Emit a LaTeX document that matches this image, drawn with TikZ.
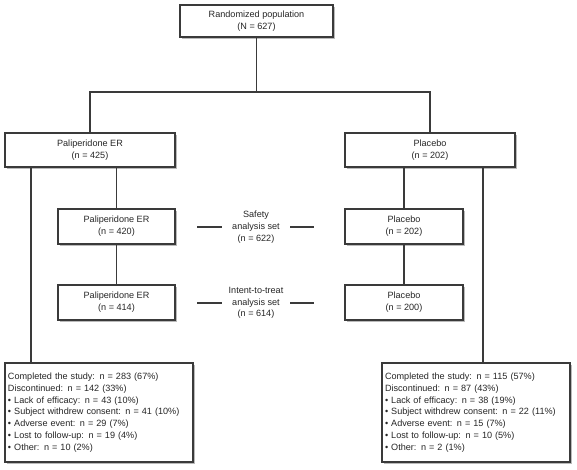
\documentclass[tikz,border=0pt]{standalone}
\usepackage{fontspec}
\setmainfont{Liberation Sans}
\usetikzlibrary{shadows}
\definecolor{ln}{HTML}{3A3A3A}
\begin{document}
\begin{tikzpicture}[x=1pt,y=-1pt,
  every node/.style={font=\fontsize{9.1}{11.8}\selectfont, text=black!85},
  box/.style={draw=ln, line width=1.2pt, fill=white, align=center, inner sep=2pt,
    drop shadow={shadow xshift=1.5pt, shadow yshift=-1.5pt, fill=black!45, opacity=0.6}},
  listbox/.style={box, align=left, text width=182pt, inner sep=2.5pt},
  conn/.style={draw=ln, line width=1.2pt},
  lbl/.style={align=center, inner sep=1pt}]
\useasboundingbox (0,0) rectangle (577,469);
\node[box, minimum width=153pt, minimum height=32pt] (top) at (256.5,21) {Randomized population\\(N = 627)};
\node[box, minimum width=170pt, minimum height=34pt] (pal) at (90,150) {Paliperidone ER\\(n = 425)};
\node[box, minimum width=170pt, minimum height=34pt] (pla) at (430,150) {Placebo\\(n = 202)};
\node[box, minimum width=117pt, minimum height=35pt] (palS) at (116.5,226.5) {Paliperidone ER\\(n = 420)};
\node[box, minimum width=118pt, minimum height=35pt] (plaS) at (404,226.5) {Placebo\\(n = 202)};
\node[box, minimum width=117pt, minimum height=35pt] (palT) at (116.5,302.5) {Paliperidone ER\\(n = 414)};
\node[box, minimum width=118pt, minimum height=35pt] (plaT) at (404,302.5) {Placebo\\(n = 200)};
\node[listbox, minimum width=188pt, minimum height=99pt] (palE) at (99,412.5) {Completed the study: n = 283 (67\%)\\Discontinued: n = 142 (33\%)\\• Lack of efficacy: n = 43 (10\%)\\• Subject withdrew consent: n = 41 (10\%)\\• Adverse event: n = 29 (7\%)\\• Lost to follow-up: n = 19 (4\%)\\• Other: n = 10 (2\%)};
\node[listbox, minimum width=188pt, minimum height=99pt] (plaE) at (476,412.5) {Completed the study: n = 115 (57\%)\\Discontinued: n = 87 (43\%)\\• Lack of efficacy: n = 38 (19\%)\\• Subject withdrew consent: n = 22 (11\%)\\• Adverse event: n = 15 (7\%)\\• Lost to follow-up: n = 10 (5\%)\\• Other: n = 2 (1\%)};
\node[lbl] (safe) at (256,227) {Safety\\analysis set\\(n = 622)};
\node[lbl] (itt) at (256,303) {Intent-to-treat\\analysis set\\(n = 614)};
\coordinate (split) at (256.5,92);
\coordinate (lx) at (31,0);
\coordinate (rx) at (483,0);
\draw[conn] (top.south) -- (split);
\draw[conn] (pal.north) |- (split) -| (pla.north);
\draw[conn] (pal.south -| palS.north) -- (palS.north);
\draw[conn] (palS.south) -- (palT.north);
\draw[conn] (pla.south -| plaS.north) -- (plaS.north);
\draw[conn] (plaS.south) -- (plaT.north);
\draw[conn] (pal.south -| lx) -- (palE.north -| lx);
\draw[conn] (pla.south -| rx) -- (plaE.north -| rx);
\draw[conn] (197,227) coordinate (s1) -- (222,227) coordinate (s2);
\draw[conn] (290,227) coordinate (s3) -- (314,227) coordinate (s4);
\draw[conn] (197,303) coordinate (t1) -- (222,303) coordinate (t2);
\draw[conn] (290,303) coordinate (t3) -- (314,303) coordinate (t4);
\end{tikzpicture}
\end{document}
